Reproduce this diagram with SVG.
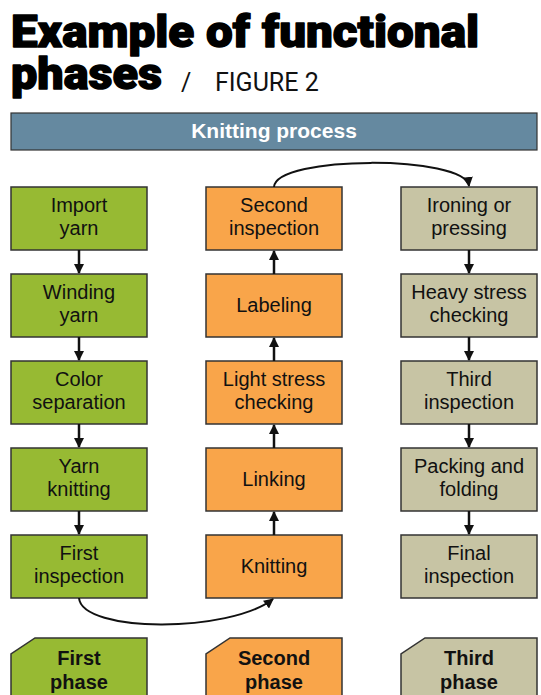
<svg xmlns="http://www.w3.org/2000/svg" width="541" height="695" viewBox="0 0 541 695">
<style>
.t{font-family:Roboto,"Liberation Sans",sans-serif;font-weight:900;font-size:45px;fill:#000;stroke:#000;stroke-width:1.4;stroke-linejoin:round}
.fig{font-family:Roboto,"Liberation Sans",sans-serif;font-size:25px;fill:#111}
.box{stroke:#333;stroke-width:1.5}
.g{fill:#97ba33}.o{fill:#f9a54a}.n{fill:#c7c4a4}
.lbl{font-family:"Liberation Sans",Arial,sans-serif;font-size:20px;fill:#111;text-anchor:middle}
.ph{font-family:"Liberation Sans",Arial,sans-serif;font-size:20px;font-weight:bold;fill:#111;text-anchor:middle}
.c{fill:none;stroke:#111;stroke-width:2.5}
.cv{fill:none;stroke:#111;stroke-width:2}
</style>
<defs>
<marker id="ah" viewBox="0 0 10 10" refX="9" refY="5" markerWidth="4" markerHeight="4" markerUnits="strokeWidth" orient="auto"><path d="M0,0 L10,5 L0,10 z" fill="#111"/></marker>
<marker id="ah2" viewBox="0 0 10 10" refX="9" refY="5" markerWidth="5" markerHeight="5" markerUnits="strokeWidth" orient="auto"><path d="M0,0 L10,5 L0,10 z" fill="#111"/></marker>
</defs>
<g id="title">
<text class="t" x="11" y="47" textLength="468" lengthAdjust="spacingAndGlyphs">Example of functional</text>
<text class="t" x="11" y="89" textLength="151" lengthAdjust="spacingAndGlyphs">phases</text>
<text class="fig" x="181" y="91">/</text>
<text class="fig" x="215" y="91">FIGURE 2</text>
</g>
<g id="header">
<rect x="11" y="113" width="526" height="37" fill="#6589a0" stroke="#333" stroke-width="1.2"/>
<text x="274" y="138" font-family="'Liberation Sans',Arial,sans-serif" font-size="21" font-weight="bold" fill="#fff" text-anchor="middle">Knitting process</text>
</g>
<g id="import-yarn"><rect class="box g" x="11" y="187" width="136" height="63"/><text class="lbl" x="79" y="212">Import</text><text class="lbl" x="79" y="235">yarn</text></g>
<g id="winding-yarn"><rect class="box g" x="11" y="274" width="136" height="63"/><text class="lbl" x="79" y="299">Winding</text><text class="lbl" x="79" y="322">yarn</text></g>
<g id="color-separation"><rect class="box g" x="11" y="361" width="136" height="63"/><text class="lbl" x="79" y="386">Color</text><text class="lbl" x="79" y="409">separation</text></g>
<g id="yarn-knitting"><rect class="box g" x="11" y="448" width="136" height="63"/><text class="lbl" x="79" y="473">Yarn</text><text class="lbl" x="79" y="496">knitting</text></g>
<g id="first-inspection"><rect class="box g" x="11" y="535" width="136" height="63"/><text class="lbl" x="79" y="560">First</text><text class="lbl" x="79" y="583">inspection</text></g>
<g id="second-inspection"><rect class="box o" x="206" y="187" width="136" height="63"/><text class="lbl" x="274" y="212">Second</text><text class="lbl" x="274" y="235">inspection</text></g>
<g id="labeling"><rect class="box o" x="206" y="274" width="136" height="63"/><text class="lbl" x="274" y="312">Labeling</text></g>
<g id="light-stress"><rect class="box o" x="206" y="361" width="136" height="63"/><text class="lbl" x="274" y="386">Light stress</text><text class="lbl" x="274" y="409">checking</text></g>
<g id="linking"><rect class="box o" x="206" y="448" width="136" height="63"/><text class="lbl" x="274" y="486">Linking</text></g>
<g id="knitting"><rect class="box o" x="206" y="535" width="136" height="63"/><text class="lbl" x="274" y="573">Knitting</text></g>
<g id="ironing"><rect class="box n" x="401" y="187" width="136" height="63"/><text class="lbl" x="469" y="212">Ironing or</text><text class="lbl" x="469" y="235">pressing</text></g>
<g id="heavy-stress"><rect class="box n" x="401" y="274" width="136" height="63"/><text class="lbl" x="469" y="299">Heavy stress</text><text class="lbl" x="469" y="322">checking</text></g>
<g id="third-inspection"><rect class="box n" x="401" y="361" width="136" height="63"/><text class="lbl" x="469" y="386">Third</text><text class="lbl" x="469" y="409">inspection</text></g>
<g id="packing"><rect class="box n" x="401" y="448" width="136" height="63"/><text class="lbl" x="469" y="473">Packing and</text><text class="lbl" x="469" y="496">folding</text></g>
<g id="final-inspection"><rect class="box n" x="401" y="535" width="136" height="63"/><text class="lbl" x="469" y="560">Final</text><text class="lbl" x="469" y="583">inspection</text></g>
<g id="phase1"><path class="box g" d="M35,638 H147 V700 H11 V654 Z"/><text class="ph" x="79" y="665">First</text><text class="ph" x="79" y="689">phase</text></g>
<g id="phase2"><path class="box o" d="M230,638 H342 V700 H206 V654 Z"/><text class="ph" x="274" y="665">Second</text><text class="ph" x="274" y="689">phase</text></g>
<g id="phase3"><path class="box n" d="M425,638 H537 V700 H401 V654 Z"/><text class="ph" x="469" y="665">Third</text><text class="ph" x="469" y="689">phase</text></g>
<g id="connectors">
<line class="c" x1="79" y1="250" x2="79" y2="273" marker-end="url(#ah)"/>
<line class="c" x1="79" y1="337" x2="79" y2="360" marker-end="url(#ah)"/>
<line class="c" x1="79" y1="424" x2="79" y2="447" marker-end="url(#ah)"/>
<line class="c" x1="79" y1="511" x2="79" y2="534" marker-end="url(#ah)"/>
<line class="c" x1="274" y1="535" x2="274" y2="512" marker-end="url(#ah)"/>
<line class="c" x1="274" y1="448" x2="274" y2="425" marker-end="url(#ah)"/>
<line class="c" x1="274" y1="361" x2="274" y2="338" marker-end="url(#ah)"/>
<line class="c" x1="274" y1="274" x2="274" y2="251" marker-end="url(#ah)"/>
<line class="c" x1="469" y1="250" x2="469" y2="273" marker-end="url(#ah)"/>
<line class="c" x1="469" y1="337" x2="469" y2="360" marker-end="url(#ah)"/>
<line class="c" x1="469" y1="424" x2="469" y2="447" marker-end="url(#ah)"/>
<line class="c" x1="469" y1="511" x2="469" y2="534" marker-end="url(#ah)"/>
<path class="cv" d="M79,598 C82,633 230,633 273,599" marker-end="url(#ah2)"/>
<path class="cv" d="M274,187 C276,155 465,155 469,186" marker-end="url(#ah2)"/>
</g>
</svg>
